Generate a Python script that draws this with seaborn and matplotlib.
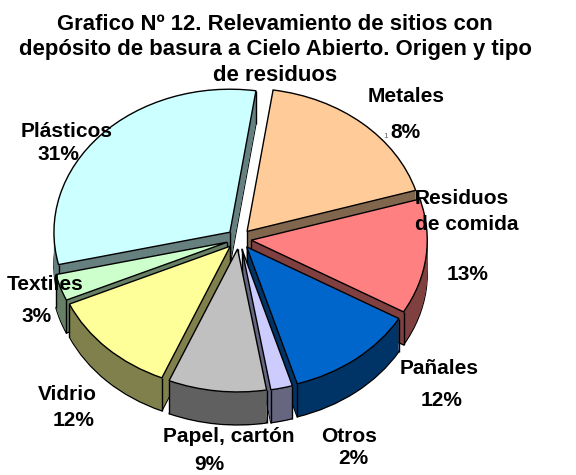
import numpy as np
import matplotlib
matplotlib.use("Agg")
import matplotlib.pyplot as plt
import seaborn as sns

categories = ["Metales", "Residuos de comida", "Pañales", "Otros", "Papel, cartón", "Vidrio", "Textiles", "Plásticos"]
values = [18, 13, 12, 2, 9, 12, 3, 31]
top_colors = ["#FFCC99", "#FF8080", "#0066CC", "#CCCCFF", "#C0C0C0", "#FFFF99", "#CCFFCC", "#CCFFFF"]
title = "Grafico Nº 12. Relevamiento de sitios con\ndepósito de basura a Cielo Abierto. Origen y tipo\nde residuos"

# text positions, in pixels of the picture
label_lines = [
    ("Metales", 406, 96), ("8%", 405, 133),
    ("Residuos", 462, 198), ("de comida", 467, 224), ("13%", 468, 274),
    ("Pañales", 439, 369), ("12%", 442, 401),
    ("Otros", 349, 436), ("2%", 353, 459),
    ("Papel, cartón", 229, 437), ("9%", 209, 465),
    ("Vidrio", 67, 394), ("12%", 74, 420),
    ("Textiles", 45, 284), ("3%", 37, 317),
    ("Plásticos", 67, 132), ("31%", 58, 154),
]

sns.set_theme(style="white")
plt.rcParams["font.family"] = ["Liberation Sans", "DejaVu Sans"]

W, H = 576, 475
cx, cy = 239, 239
rx, ry = 176, 143
depth = 33 / ry
explode = 0.07
start = 81.5

fig = plt.figure(figsize=(W / 100, H / 100), dpi=100, facecolor="white")
ax = fig.add_axes([0, 0, 1, 1])

starts = start - 3.6 * np.concatenate([[0], np.cumsum(values)[:-1]])
mids = starts - 1.8 * np.array(values)
# back slices first, the front ones cover them
order = np.argsort(-np.sin(np.radians(mids)))


def one_slice(i, d, color, **kw):
    wedges, _ = ax.pie([values[i] / 100], explode=[explode], startangle=starts[i], counterclock=False,
                       normalize=False, radius=1, center=(0, -d), colors=[color], frame=True, wedgeprops=kw)
    return wedges[0]


z = 1
for i in order:
    side = tuple(np.array(matplotlib.colors.to_rgb(top_colors[i])) * 0.5)
    parts = [one_slice(i, depth, side, edgecolor="black", linewidth=1)]
    for d in np.linspace(depth, 0, 40)[1:]:
        parts.append(one_slice(i, d, side, edgecolor="none", linewidth=0))
    for p in parts:
        p.set_zorder(z)
    # vertical creases at the corners of the slice, under the top face
    w = parts[-1]
    px, py = w.center
    xs = [px, px + np.cos(np.radians(w.theta1)), px + np.cos(np.radians(w.theta2))]
    ys = [py, py + np.sin(np.radians(w.theta1)), py + np.sin(np.radians(w.theta2))]
    for x, y in zip(xs, ys):
        ax.plot([x, x], [y, y - depth], color="black", lw=1, zorder=z + 0.5, solid_capstyle="butt")
    one_slice(i, 0, top_colors[i], edgecolor="black", linewidth=1).set_zorder(z + 0.7)
    z += 1

ax.set_aspect("auto")
ax.set_xlim(-cx / rx, (W - cx) / rx)
ax.set_ylim((cy - H) / ry, cy / ry)
ax.axis("off")

fig.text(275 / W, 1 - 14 / H, title, ha="center", va="top", fontsize=15.9, fontweight="bold",
         color="black", linespacing=1.27)

for txt, x, y in label_lines:
    fig.text(x / W, 1 - y / H, txt, ha="center", va="center", fontsize=15, fontweight="bold", color="black", zorder=20)
fig.text(386 / W, 1 - 136 / H, "1", ha="center", va="center", fontsize=6, color="#666666", zorder=20)

fig.savefig("out.png", dpi=100)
